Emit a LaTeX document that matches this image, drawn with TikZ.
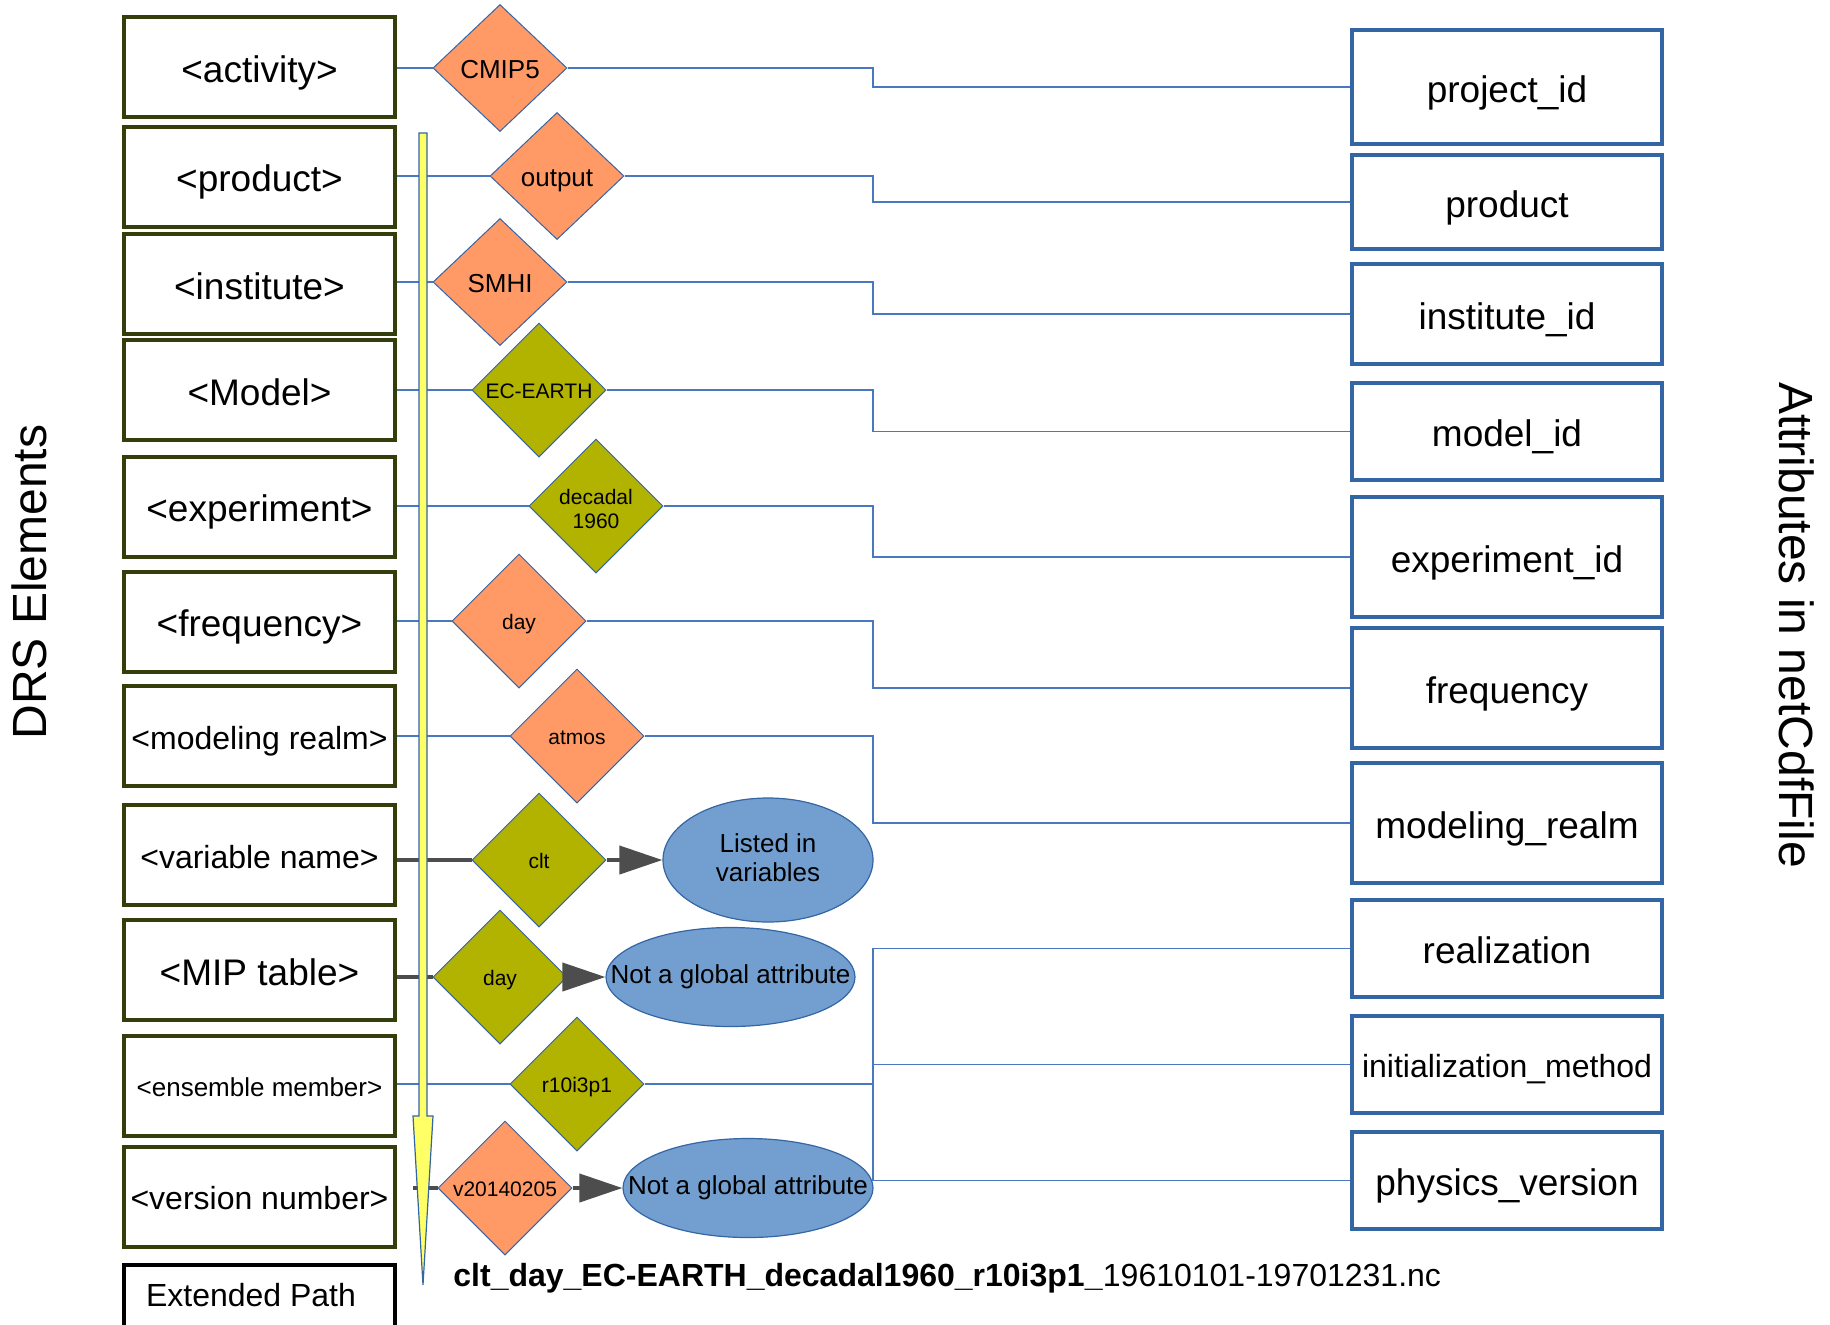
\documentclass[tikz,border=0pt]{standalone}
\usepackage{fontspec}
\setmainfont{Liberation Sans}
\usetikzlibrary{shapes.geometric,arrows.meta}

\definecolor{drsline}{RGB}{52,62,10}
\definecolor{attrblue}{RGB}{52,101,164}
\definecolor{connblue}{RGB}{74,120,190}
\definecolor{valorange}{RGB}{255,153,102}
\definecolor{valolive}{RGB}{178,178,0}
\definecolor{blobblue}{RGB}{114,159,207}
\definecolor{feedgray}{RGB}{77,77,77}
\definecolor{pathyellow}{RGB}{255,255,102}

\newcommand\fsz[1]{\fontsize{#1}{1.2\dimexpr#1pt\relax}\selectfont}

\begin{document}
\begin{tikzpicture}[x=0.5pt,y=-0.5pt,
  big/.style={font=\fsz{18.5}, text height=17pt, text depth=2pt},
  mid/.style={font=\fsz{16}, text height=14.7pt, text depth=1.7pt},
  small/.style={font=\fsz{13}, text height=12pt, text depth=1.4pt},
  drs/.style={draw=drsline, line width=2pt, minimum width=135.5pt,
    minimum height=50pt, inner sep=0pt, big},
  attr/.style={draw=attrblue, line width=2.2pt, minimum width=155pt,
    inner sep=0pt, big},
  val/.style={shape=diamond, draw=attrblue, line width=0.5pt, inner sep=0pt,
    minimum width=67pt, minimum height=67pt, align=center,
    font=\fontsize{10.5}{12}\selectfont, text height=8.6pt, text depth=0.2pt},
  bigval/.style={minimum height=63.5pt, font=\fsz{13},
    text height=10.5pt, text depth=0pt},
  orangeval/.style={val, fill=valorange},
  oliveval/.style={val, fill=valolive},
  valtext/.style={align=center, inner sep=0pt,
    font=\fontsize{10.5}{12}\selectfont},
  blob/.style={shape=ellipse, draw=attrblue, line width=0.6pt,
    fill=blobblue, inner sep=0pt},
  blobtext/.style={align=center, inner sep=0pt,
    font=\fontsize{13}{14.5}\selectfont},
  conn/.style={draw=connblue, line width=0.8pt},
  feed/.style={draw=feedgray, line width=2pt},
  feedarrow/.style={feed, -{Triangle[length=21.5pt,width=14pt]}}]

\useasboundingbox (0,0) rectangle (1830,1324);

% DRS path elements
\node[drs] (l1) at (259.5,67) {<activity>};
\node[drs] (l2) at (259.5,176.5) {<product>};
\node[drs] (l3) at (259.5,284) {<institute>};
\node[drs] (l4) at (259.5,390) {<Model>};
\node[drs] (l5) at (259.5,506.5) {<experiment>};
\node[drs] (l6) at (259.5,621.5) {<frequency>};
\node[drs, mid] (l7) at (259.5,736) {<modeling realm>};
\node[drs, mid] (l8) at (259.5,855) {<variable name>};
\node[drs] (l9) at (259.5,970) {<MIP table>};
\node[drs, small] (l10) at (259.5,1085.5) {<ensemble member>};
\node[drs, mid] (l11) at (259.5,1196.5) {<version number>};
\node[drs, draw=black, minimum height=36pt] (l12) at (259.5,1301) {};
\node[font=\fsz{16}, inner sep=0pt] (l12t) at (251,1295) {Extended Path};

% values
\node[orangeval, bigval] (d1) at (500,68) {CMIP5};
\node[orangeval, bigval] (d2) at (557,176) {output};
\node[orangeval, bigval] (d3) at (500,282) {SMHI};
\node[oliveval] (d4) at (539,390) {EC-EARTH};
\node[oliveval] (d5) at (596,506) {};
\node[valtext] (d5t) at (596,508.5) {decadal\\1960};
\node[orangeval] (d6) at (519,621) {day};
\node[orangeval] (d7) at (577,736) {atmos};
\node[oliveval] (d8) at (539,860) {clt};
\node[oliveval] (d9) at (500,977) {day};
\node[oliveval] (d10) at (577,1084) {r10i3p1};
\node[orangeval] (d11) at (505,1188) {v20140205};

% notes
\node[blob, minimum width=105pt, minimum height=62pt] (e8) at (768,860) {};
\node[blobtext] (e8t) at (768,858) {Listed in\\variables};
\node[blob, minimum width=124.5pt, minimum height=49.5pt] (e9) at (730.5,977) {};
\node[blobtext] (e9t) at (e9) {Not a global attribute};
\node[blob, minimum width=125pt, minimum height=49.5pt] (e11) at (748,1188) {};
\node[blobtext] (e11t) at (e11) {Not a global attribute};

% netCDF global attributes
\node[attr, minimum height=57pt] (r1) at (1507,87) {project\_id};
\node[attr, minimum height=47pt] (r2) at (1507,202) {product};
\node[attr, minimum height=50pt] (r3) at (1507,314) {institute\_id};
\node[attr, minimum height=48.5pt] (r4) at (1507,431.5) {model\_id};
\node[attr, minimum height=60pt] (r5) at (1507,557) {experiment\_id};
\node[attr, minimum height=60pt] (r6) at (1507,688) {frequency};
\node[attr, minimum height=60pt] (r7) at (1507,823) {modeling\_realm};
\node[attr, minimum height=48.5pt] (r8) at (1507,948.5) {realization};
\node[attr, minimum height=48.5pt, mid] (r9) at (1507,1064.5) {initialization\_method};
\node[attr, minimum height=48.5pt] (r10) at (1507,1180.5) {physics\_version};

% connectors
\coordinate (jx) at (873,0);
\foreach \i in {1,...,7} {
  \draw[conn] (l\i.east |- d\i.west) -- (d\i.west);
  \draw[conn] (d\i.east) -- (d\i.east -| jx) |- (r\i.west);
}
\draw[conn] (l10.east |- d10.west) -- (d10.west);
\draw[conn] (d10.east) -- (d10.east -| jx);
\foreach \j in {8,9,10}
  \draw[conn] (d10.east -| jx) |- (r\j.west);

\draw[feed] (l8.east |- d8.west) -- (d8.west);
\draw[feedarrow] (d8.east) -- (e8.west);
\draw[feed] (l9.east |- d9.west) -- (d9.west);
\draw[feedarrow] (d9.east) -- (e9.west);
\coordinate (vstub) at (413,1188);
\draw[feed] (vstub) -- (d11.west);
\draw[feedarrow] (d11.east) -- (e11.west);

% reading direction of the path
\draw[draw=attrblue, line width=0.6pt, fill=pathyellow]
  (419,133) -- (427,133) -- (427,1116) -- (433,1116) -- (423,1285)
  -- (413,1116) -- (419,1116) -- cycle;

% titles and file name
\node[rotate=90, font=\fsz{24}] (drstitle) at (29,582) {DRS Elements};
\node[rotate=-90, font=\fsz{24}] (attrtitle) at (1797,625) {Attributes in netCdfFile};
\node[anchor=base west, inner sep=0pt, font=\fsz{16}] (fname) at (453,1286)
  {\textbf{clt\_day\_EC-EARTH\_decadal1960\_r10i3p1\_}19610101-19701231.nc};
\end{tikzpicture}
\end{document}
